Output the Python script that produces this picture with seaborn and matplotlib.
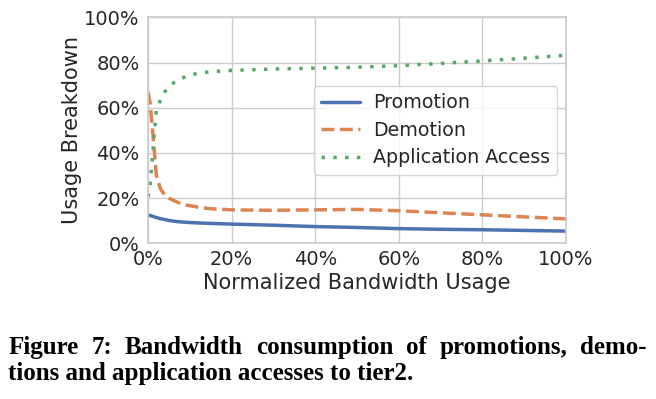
import matplotlib
matplotlib.use("Agg")
import matplotlib.pyplot as plt
import seaborn as sns
import pandas as pd
from matplotlib.ticker import FuncFormatter

# ---- data (percent) ----
bandwidth = [0, 0.5, 1, 1.5, 2, 3, 4, 5, 7, 9, 12, 15, 20, 30, 40, 50, 60, 70, 80, 90, 100]
promotion = [12.5, 12.3, 12.0, 11.7, 11.4, 10.9, 10.5, 10.1, 9.6, 9.3, 9.0, 8.8, 8.5,
             8.0, 7.4, 7.0, 6.5, 6.2, 6.0, 5.7, 5.4]
demotion = [67.0, 62.0, 52.0, 41.0, 30.0, 24.0, 21.5, 20.0, 18.2, 17.0, 16.0, 15.3, 14.8,
            14.6, 14.8, 15.0, 14.4, 13.5, 12.6, 11.7, 10.8]
app_access = [20.6, 26.0, 36.5, 48.0, 59.0, 63.5, 67.0, 69.3, 72.3, 73.7, 75.3, 75.9, 76.5,
              77.1, 77.5, 77.9, 78.6, 79.6, 80.7, 81.9, 83.2]
series_names = ["Promotion", "Demotion", "Application Access"]
x_ticks = [0, 20, 40, 60, 80, 100]
y_ticks = [0, 20, 40, 60, 80, 100]
x_label = "Normalized Bandwidth Usage"
y_label = "Usage Breakdown"
caption_line1 = "Figure 7: Bandwidth consumption of promotions, demo-"
caption_line2 = "tions and application accesses to tier2."

df = pd.concat([
    pd.DataFrame({"x": bandwidth, "y": vals, "kind": name})
    for name, vals in zip(series_names, [promotion, demotion, app_access])
])

sns.set_theme(style="whitegrid")
W, H = 656, 399
fig = plt.figure(figsize=(W / 100, H / 100), dpi=100)
ax = fig.add_axes([148 / W, 1 - 243.3 / H, (566 - 148) / W, (243.3 - 17.3) / H])

palette = sns.color_palette("deep")[:3]
sns.lineplot(data=df, x="x", y="y", hue="kind", style="kind",
             palette=palette,
             dashes={"Promotion": "", "Demotion": (3.7, 1.6), "Application Access": (1, 2.4)},
             linewidth=2.5, ax=ax, legend=True)

ax.set_xlim(0, 100)
ax.set_ylim(0, 100)
ax.set_xticks(x_ticks)
ax.set_yticks(y_ticks)
pct = FuncFormatter(lambda v, p: f"{v:.0f}%")
ax.xaxis.set_major_formatter(pct)
ax.yaxis.set_major_formatter(pct)
ax.tick_params(axis="both", labelsize=14, length=0)
ax.tick_params(axis="x", pad=4.5)
ax.tick_params(axis="y", pad=6)
ax.set_xlabel(x_label, fontsize=15, labelpad=3.5)
ax.set_ylabel(y_label, fontsize=15, labelpad=1.5)

leg = ax.legend(loc="center right", fontsize=13.7, frameon=True, handlelength=2.05,
                handletextpad=0.65, borderaxespad=0.45, labelspacing=0.45, borderpad=0.4)
for h in leg.get_lines():
    h.set_linewidth(2.5)

# ---- caption (justified first line) ----
fig.canvas.draw()
renderer = fig.canvas.get_renderer()
cap_font = dict(family="Liberation Serif", weight="bold", color="black")
left_px, right_px = 8.3, 646.5

probe = fig.text(0, 0, caption_line2, fontsize=10, **cap_font)
w10 = probe.get_window_extent(renderer).width
probe.remove()
fs = 10 * (415 - left_px) / w10

fig.text(left_px / W, 1 - 380 / H, caption_line2, fontsize=fs, ha="left", va="baseline", **cap_font)

words = caption_line1.split(" ")
widths = []
for wd in words:
    t = fig.text(0, 0, wd, fontsize=fs, **cap_font)
    widths.append(t.get_window_extent(renderer).width)
    t.remove()
gap = (right_px - left_px - sum(widths)) / (len(words) - 1)
xpos = left_px
for wd, wdt in zip(words, widths):
    fig.text(xpos / W, 1 - 354 / H, wd, fontsize=fs, ha="left", va="baseline", **cap_font)
    xpos += wdt + gap

fig.savefig("out.png", dpi=100)
